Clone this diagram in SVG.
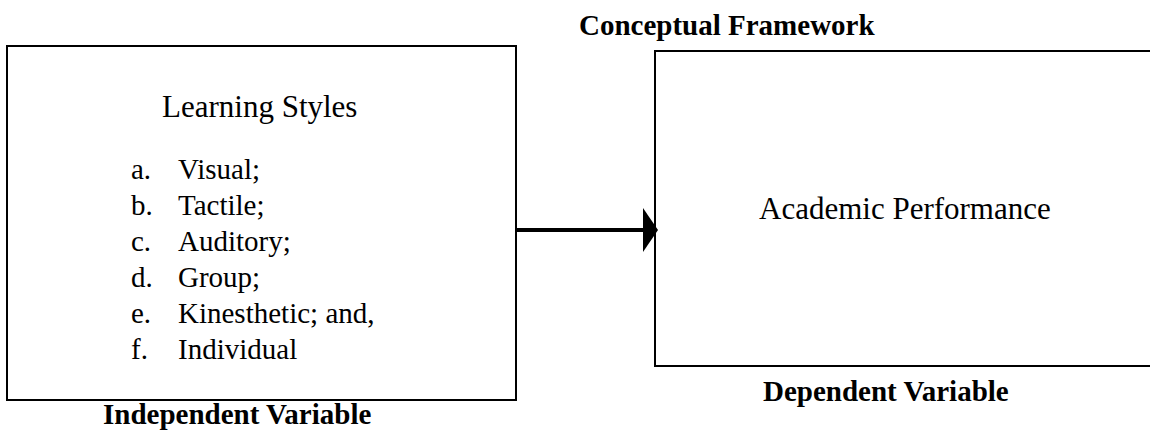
<svg xmlns="http://www.w3.org/2000/svg" width="1150" height="431" viewBox="0 0 1150 431">
<style>
.box{fill:#fff;stroke:#000;stroke-width:2}
.t{font-family:"Liberation Serif","Times New Roman",serif;font-size:29px;fill:#000}
.h{font-family:"Liberation Serif","Times New Roman",serif;font-size:31px;fill:#000}
.b{font-family:"Liberation Serif","Times New Roman",serif;font-size:29px;font-weight:bold;fill:#000}
.conn{stroke:#000;stroke-width:4;fill:none}
</style>
<defs>
<marker id="ah" markerWidth="15" markerHeight="44" refX="2" refY="22" orient="auto" markerUnits="userSpaceOnUse">
<path d="M0,0 L15,22 L0,44 Z" fill="#000"/>
</marker>
</defs>
<rect width="1150" height="431" fill="#fff"/>
<text class="b" x="579" y="35">Conceptual Framework</text>
<g id="node-learning">
<rect class="box" x="7" y="46" width="509" height="354"/>
<text class="h" x="162" y="117">Learning Styles</text>
<text class="t" x="131" y="179">a.</text><text class="t" x="178" y="179">Visual;</text>
<text class="t" x="131" y="215">b.</text><text class="t" x="178" y="215">Tactile;</text>
<text class="t" x="131" y="251">c.</text><text class="t" x="178" y="251">Auditory;</text>
<text class="t" x="131" y="287">d.</text><text class="t" x="178" y="287">Group;</text>
<text class="t" x="131" y="323">e.</text><text class="t" x="178" y="323">Kinesthetic; and,</text>
<text class="t" x="131" y="359">f.</text><text class="t" x="178" y="359">Individual</text>
</g>
<g id="node-academic">
<rect class="box" x="655" y="51" width="510" height="315"/>
<text class="h" x="759" y="219">Academic Performance</text>
</g>
<g id="labels">
<text class="b" x="103" y="424">Independent Variable</text>
<text class="b" x="763" y="401">Dependent Variable</text>
</g>
<g id="connectors">
<line class="conn" x1="516" y1="230" x2="645" y2="230" marker-end="url(#ah)"/>
</g>
</svg>
